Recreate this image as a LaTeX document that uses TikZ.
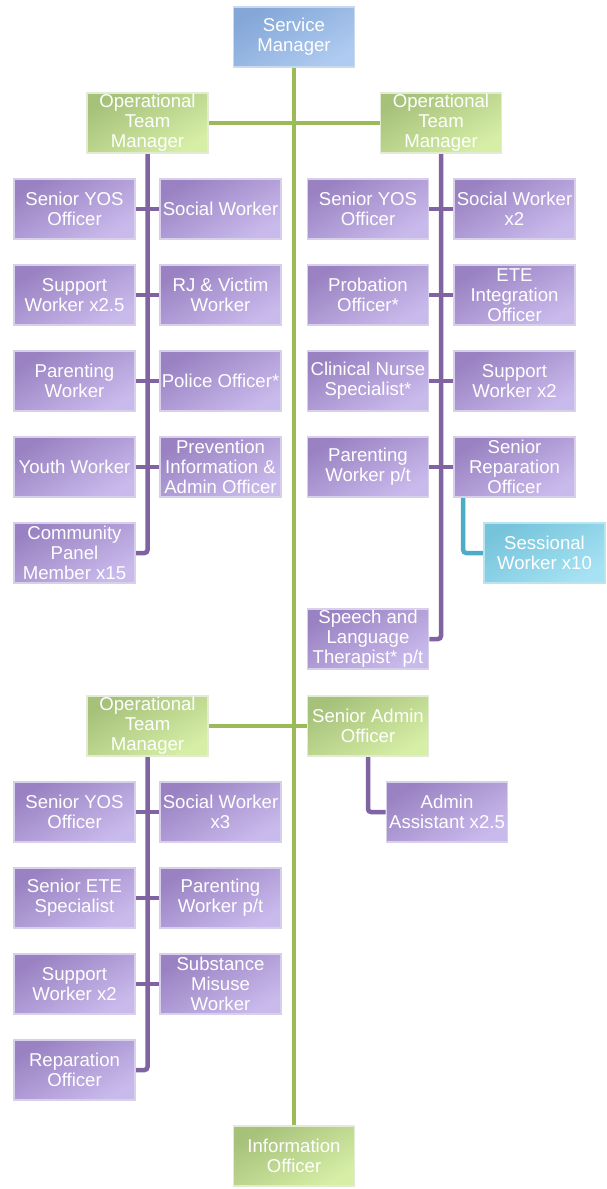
\documentclass[tikz,border=0pt]{standalone}
\usepackage{fontspec}
\setmainfont{Liberation Sans}
\pgfdeclarelayer{bg}
\pgfsetlayers{bg,main}
\definecolor{pdark}{HTML}{9A82C2}
\definecolor{plight}{HTML}{C9BAEC}
\definecolor{pborder}{HTML}{D8D0EA}
\definecolor{pline}{HTML}{8064A2}
\definecolor{gdark}{HTML}{A6C17A}
\definecolor{glight}{HTML}{D6EEA6}
\definecolor{gborder}{HTML}{E2EBD4}
\definecolor{gline}{HTML}{9BBB59}
\definecolor{bdark}{HTML}{84A7D8}
\definecolor{blight}{HTML}{AFCBF0}
\definecolor{bborder}{HTML}{CADAEE}
\definecolor{cdark}{HTML}{76C4DB}
\definecolor{clight}{HTML}{A6E2F3}
\definecolor{cborder}{HTML}{BCE4EF}
\definecolor{cline}{HTML}{4BACC6}
\tikzset{
  box/.style={minimum width=121pt, minimum height=60pt, inner sep=0pt,
    align=center, text=white, line width=1.6pt,
    font=\fontsize{18.6}{20}\selectfont},
  pbox/.style={box, draw=pborder, top color=pdark, bottom color=plight, shading angle=30},
  gbox/.style={box, draw=gborder, top color=gdark, bottom color=glight, shading angle=30},
  bbox/.style={box, draw=bborder, top color=bdark, bottom color=blight, shading angle=30},
  cbox/.style={box, draw=cborder, top color=cdark, bottom color=clight, shading angle=30},
  pconn/.style={draw=pline, line width=4.5pt, rounded corners=3pt},
  gconn/.style={draw=gline, line width=4pt},
  cconn/.style={draw=cline, line width=4.5pt, rounded corners=3pt},
}
\begin{document}
\begin{tikzpicture}[x=1pt,y=-1pt]
\path[use as bounding box] (0,0) rectangle (607,1189);
% top level
\node[bbox] (sm) at (294,37) {Service\\Manager};
\node[gbox] (otmL) at (147.5,123) {Operational\\Team\\Manager};
\node[gbox] (otmR) at (441,123) {Operational\\Team\\Manager};
\node[gbox] (otmB) at (147.5,726) {Operational\\Team\\Manager};
\node[gbox] (sao) at (368,726) {Senior Admin\\Officer};
\node[gbox] (io) at (294,1156) {Information\\Officer};
% left team
\node[pbox] (l1a) at (74.5,209) {Senior YOS\\Officer};
\node[pbox] (l1b) at (220.5,209) {Social Worker};
\node[pbox] (l2a) at (74.5,295) {Support\\Worker x2.5};
\node[pbox] (l2b) at (220.5,295) {RJ \& Victim\\Worker};
\node[pbox] (l3a) at (74.5,381) {Parenting\\Worker};
\node[pbox] (l3b) at (220.5,381) {Police Officer*};
\node[pbox] (l4a) at (74.5,467) {Youth Worker};
\node[pbox] (l4b) at (220.5,467) {Prevention\\Information \&\\Admin Officer};
\node[pbox] (l5a) at (74.5,553) {Community\\Panel\\Member x15};
% right team
\node[pbox] (r1a) at (368,209) {Senior YOS\\Officer};
\node[pbox] (r1b) at (514.5,209) {Social Worker\\x2};
\node[pbox] (r2a) at (368,295) {Probation\\Officer*};
\node[pbox] (r2b) at (514.5,295) {ETE\\Integration\\Officer};
\node[pbox] (r3a) at (368,381) {Clinical Nurse\\Specialist*};
\node[pbox] (r3b) at (514.5,381) {Support\\Worker x2};
\node[pbox] (r4a) at (368,467) {Parenting\\Worker p/t};
\node[pbox] (r4b) at (514.5,467) {Senior\\Reparation\\Officer};
\node[cbox] (sw10) at (544.5,553) {Sessional\\Worker x10};
\node[pbox] (r5a) at (368,639) {Speech and\\Language\\Therapist* p/t};
% admin
\node[pbox] (aa) at (447,812) {Admin\\Assistant x2.5};
% bottom team
\node[pbox] (b1a) at (74.5,812) {Senior YOS\\Officer};
\node[pbox] (b1b) at (220.5,812) {Social Worker\\x3};
\node[pbox] (b2a) at (74.5,898) {Senior ETE\\Specialist};
\node[pbox] (b2b) at (220.5,898) {Parenting\\Worker p/t};
\node[pbox] (b3a) at (74.5,984) {Support\\Worker x2};
\node[pbox] (b3b) at (220.5,984) {Substance\\Misuse\\Worker};
\node[pbox] (b4a) at (74.5,1070) {Reparation\\Officer};
\begin{pgfonlayer}{bg}
\draw[gconn] (sm.south) -- (io.north);
\draw[gconn] (otmL.east) -- (otmR.west);
\draw[gconn] (otmB.east) -- (sao.west);
% left team
\draw[pconn] (otmL.south) |- (l5a.east);
\draw[pconn] (l1a.east) -- (l1b.west);
\draw[pconn] (l2a.east) -- (l2b.west);
\draw[pconn] (l3a.east) -- (l3b.west);
\draw[pconn] (l4a.east) -- (l4b.west);
% right team
\draw[pconn] (otmR.south) |- (r5a.east);
\draw[pconn] (r1a.east) -- (r1b.west);
\draw[pconn] (r2a.east) -- (r2b.west);
\draw[pconn] (r3a.east) -- (r3b.west);
\draw[pconn] (r4a.east) -- (r4b.west);
\draw[cconn] ([xshift=10pt]r4b.south west) |- (sw10.west);
% admin
\draw[pconn] (sao.south) |- (aa.west);
% bottom team
\draw[pconn] (otmB.south) |- (b4a.east);
\draw[pconn] (b1a.east) -- (b1b.west);
\draw[pconn] (b2a.east) -- (b2b.west);
\draw[pconn] (b3a.east) -- (b3b.west);
\end{pgfonlayer}
\end{tikzpicture}
\end{document}
